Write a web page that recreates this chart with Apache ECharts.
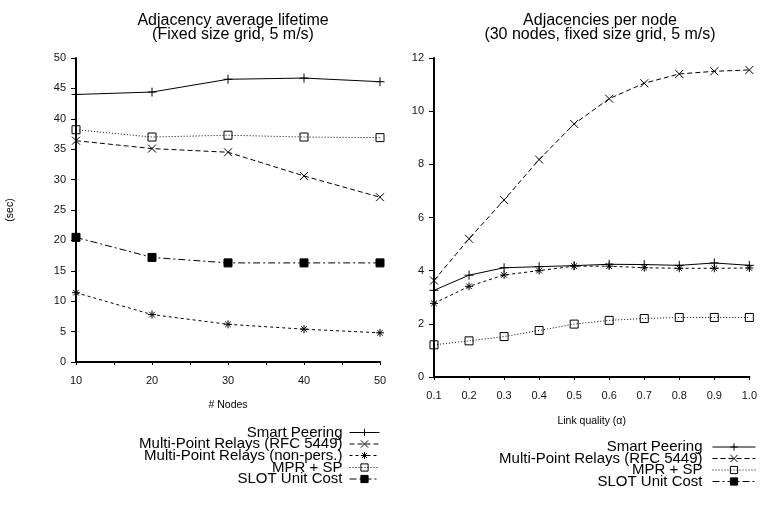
<!DOCTYPE html>
<html><head><meta charset="utf-8">
<script src="https://cdn.jsdelivr.net/npm/echarts@6/dist/echarts.min.js"></script>
<style>html,body{margin:0;padding:0;background:#fff}#c{width:760px;height:508px}</style>
</head><body><div id="c"></div>
<script>
// Left chart data
const nodes = [10, 20, 30, 40, 50];
const leftSmartPeering = [44.0, 44.4, 46.5, 46.7, 46.1];
const leftMprRfc = [36.4, 35.1, 34.5, 30.6, 27.1];
const leftMprNonPers = [11.4, 7.8, 6.2, 5.4, 4.8];
const leftMprSp = [38.2, 37.0, 37.3, 37.0, 36.9];
const leftSlot = [20.5, 17.2, 16.3, 16.3, 16.3];

// Right chart data
const linkQuality = ['0.1', '0.2', '0.3', '0.4', '0.5', '0.6', '0.7', '0.8', '0.9', '1.0'];
const rightSmartPeering = [3.26, 3.83, 4.11, 4.15, 4.19, 4.24, 4.23, 4.2, 4.29, 4.2];
const rightMprRfc = [3.63, 5.2, 6.66, 8.18, 9.52, 10.47, 11.05, 11.4, 11.5, 11.55];
const rightMprSp = [2.77, 3.41, 3.84, 4.0, 4.17, 4.17, 4.11, 4.09, 4.09, 4.1];
const rightSlot = [1.21, 1.36, 1.52, 1.75, 1.99, 2.13, 2.2, 2.24, 2.24, 2.24];

const leftNames = ['Smart Peering', 'Multi-Point Relays (RFC 5449)', 'Multi-Point Relays (non-pers.)', 'MPR + SP', 'SLOT Unit Cost'];
const rightNames = ['Smart Peering', 'Multi-Point Relays (RFC 5449)', 'MPR + SP', 'SLOT Unit Cost'];

const FONT = 'Liberation Sans, Arial, sans-serif';
const PLUS = 'path://M0,5L10,5M5,0L5,10';
const CROSS = 'path://M0,0L10,10M10,0L0,10';
const STAR = 'path://M0,5L10,5M5,0L5,10M1.5,1.5L8.5,8.5M8.5,1.5L1.5,8.5';

const styles = {
  plus:   { symbol: PLUS,  symbolSize: 9, fill: 'none', dash: 'solid' },
  cross:  { symbol: CROSS, symbolSize: 8, fill: 'none', dash: [5, 3] },
  star:   { symbol: STAR,  symbolSize: 8, fill: 'none', dash: [3, 3] },
  open:   { symbol: 'rect', symbolSize: 8, fill: 'none', dash: [1, 2] },
  filled: { symbol: 'rect', symbolSize: 8, fill: '#000', dash: [7, 3, 2, 3] }
};

function mk(name, data, st, xi, yi) {
  const s = styles[st];
  return {
    type: 'line', name: name, data: data, xAxisIndex: xi, yAxisIndex: yi,
    symbol: s.symbol, symbolSize: s.symbolSize, showAllSymbol: true,
    lineStyle: { color: '#000', width: 1, type: s.dash },
    itemStyle: { color: s.fill, borderColor: '#000', borderWidth: 1 },
    emphasis: { disabled: true },
    animation: false, z: 3
  };
}

// one legend component per row for exact row spacing
function legendRows(names, centers, right, iconW, gap) {
  return names.map((n, i) => ({
    orient: 'vertical', right: right, top: centers[i] - 8, align: 'right', padding: 0,
    itemWidth: iconW, itemHeight: 9, selectedMode: false, data: [n],
    lineStyle: { width: 1 }, itemStyle: { borderWidth: 1 },
    textStyle: { fontFamily: FONT, fontSize: 15, color: '#000', lineHeight: 16, padding: [0, gap, 0, 0] }
  }));
}

const axisText = { color: '#111', fontFamily: FONT, fontSize: 11 };
const nameText = { fontFamily: FONT, fontSize: 10.5, color: '#000' };

const option = {
  backgroundColor: '#fff',
  animation: false,
  title: [
    { text: 'Adjacency average lifetime\n(Fixed size grid, 5 m/s)', left: 228, top: 9, textAlign: 'center',
      textStyle: { fontFamily: FONT, fontSize: 16, fontWeight: 'normal', color: '#000', lineHeight: 14 } },
    { text: 'Adjacencies per node\n(30 nodes, fixed size grid, 5 m/s)', left: 595, top: 9, textAlign: 'center',
      textStyle: { fontFamily: FONT, fontSize: 16, fontWeight: 'normal', color: '#000', lineHeight: 14 } }
  ],
  grid: [
    { left: 76, top: 58, width: 304, height: 304, containLabel: false },
    { left: 434, top: 58, width: 322, height: 319, containLabel: false }
  ],
  legend: legendRows(leftNames, [432.5, 444, 455.5, 467.5, 479], 380, 30, 2)
    .concat(legendRows(rightNames, [447, 458.5, 470, 481.5], 4, 43, 5)),
  xAxis: [
    { type: 'value', gridIndex: 0, min: 10, max: 50, interval: 5,
      name: '# Nodes', nameLocation: 'middle', nameGap: 38, nameTextStyle: nameText,
      axisLine: { lineStyle: { color: '#000', width: 2 } },
      axisTick: { show: true, length: 3, lineStyle: { color: '#000', width: 1 } },
      axisLabel: { ...axisText, margin: 13, formatter: v => (v % 10 === 0 ? String(v) : '') },
      splitLine: { show: false } },
    { type: 'category', gridIndex: 1, data: linkQuality, boundaryGap: false,
      name: 'Link quality (\u03b1)', nameLocation: 'middle', nameGap: 39, nameTextStyle: nameText,
      axisLine: { lineStyle: { color: '#000', width: 2 } },
      axisTick: { show: true, length: 3, alignWithLabel: true, lineStyle: { color: '#000', width: 1 } },
      axisLabel: { ...axisText, margin: 13, interval: 0 },
      splitLine: { show: false } }
  ],
  yAxis: [
    { type: 'value', gridIndex: 0, min: 0, max: 50, interval: 5,
      name: '(sec)', nameLocation: 'middle', nameGap: 60, nameRotate: 90, nameTextStyle: nameText,
      axisLine: { show: true, lineStyle: { color: '#000', width: 2 } },
      axisTick: { show: true, length: 5, lineStyle: { color: '#000', width: 1 } },
      axisLabel: { ...axisText, margin: 10 },
      splitLine: { show: false } },
    { type: 'value', gridIndex: 1, min: 0, max: 12, interval: 2,
      axisLine: { show: true, lineStyle: { color: '#000', width: 2 } },
      axisTick: { show: true, length: 5, lineStyle: { color: '#000', width: 1 } },
      axisLabel: { ...axisText, margin: 10 },
      splitLine: { show: false } }
  ],
  series: [
    mk('Smart Peering', nodes.map((n, i) => [n, leftSmartPeering[i]]), 'plus', 0, 0),
    mk('Multi-Point Relays (RFC 5449)', nodes.map((n, i) => [n, leftMprRfc[i]]), 'cross', 0, 0),
    mk('Multi-Point Relays (non-pers.)', nodes.map((n, i) => [n, leftMprNonPers[i]]), 'star', 0, 0),
    mk('MPR + SP', nodes.map((n, i) => [n, leftMprSp[i]]), 'open', 0, 0),
    mk('SLOT Unit Cost', nodes.map((n, i) => [n, leftSlot[i]]), 'filled', 0, 0),
    mk('Smart Peering', rightSmartPeering, 'plus', 1, 1),
    mk('Multi-Point Relays (RFC 5449)', rightMprRfc, 'cross', 1, 1),
    mk('MPR + SP', rightMprSp, 'star', 1, 1),
    mk('SLOT Unit Cost', rightSlot, 'open', 1, 1)
  ]
};

const chart = echarts.init(document.getElementById('c'), null, { renderer: 'canvas' });
chart.setOption(option);
</script>
</body></html>
